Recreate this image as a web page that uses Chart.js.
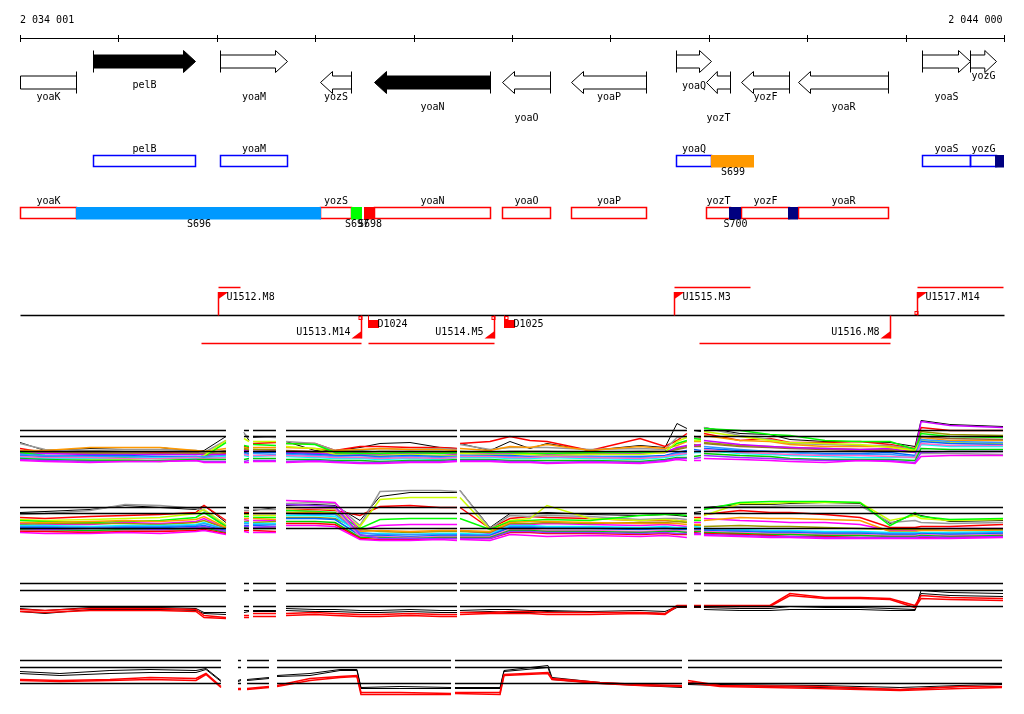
<!DOCTYPE html>
<html>
<head>
<meta charset="utf-8">
<script src="https://cdn.jsdelivr.net/npm/chart.js@4.4.1/dist/chart.umd.min.js"></script>
<style>
  body { margin: 0; background: #fff; }
  canvas { display: block; }
</style>
</head>
<body>
<canvas id="browser" width="1024" height="714"></canvas>
<script>
// region on display
var regionStart = 2034001;
var regionEnd = 2044000;

// genes (bp)
var geneNames  = ['yoaK', 'pelB', 'yoaM', 'yozS', 'yoaN', 'yoaO', 'yoaP', 'yoaQ', 'yozT', 'yozF', 'yoaR', 'yoaS', 'yozG'];
var geneStart  = [2034001, 2034743, 2036033, 2037049, 2037598, 2038899, 2039600, 2040667, 2040972, 2041327, 2041906, 2043166, 2043654];
var geneEnd    = [2034570, 2035779, 2036714, 2037364, 2038777, 2039387, 2040362, 2041023, 2041216, 2041815, 2042821, 2043654, 2043918];
var geneStrand = [-1, 1, 1, -1, -1, -1, -1, 1, -1, -1, -1, 1, 1];
var geneDark   = [false, true, false, false, true, false, false, false, false, false, false, false, false];

// segments
var segNames  = ['S696', 'S697', 'S698', 'S699', 'S700', '', ''];
var segStart  = [2034570, 2037364, 2037497, 2041023, 2041206, 2041805, 2043909];
var segEnd    = [2037060, 2037476, 2037608, 2041460, 2041327, 2041907, 2044000];
var segStrand = [-1, -1, -1, 1, -1, -1, 1];
var segColor  = ['#0099ff', '#00ff00', '#ff0000', '#ff9900', '#000080', '#000080', '#000080'];

// transcription units
var tuNames  = ['U1512.M8', 'U1513.M14', 'U1514.M5', 'U1515.M3', 'U1516.M8', 'U1517.M14'];
var tuLeft   = [2036013, 2035840, 2037537, 2040647, 2040901, 2043116];
var tuRight  = [2036237, 2037466, 2038818, 2041419, 2042842, 2043990];
var tuStrand = [1, -1, -1, 1, -1, 1];
var dNames = ['D1024', 'D1025'];
var dPos   = [2037537, 2038919];
var termPos    = [2037451, 2038812, 2038935, 2043106];
var termStrand = [-1, -1, -1, 1];

// probe positions, panels 1-3
var probesA = [2034001, 2034255, 2034712, 2035068, 2035424, 2035789, 2035871, 2036094,
  2036277, 2036328,
  2036369, 2036602,
  2036704, 2036999, 2037202, 2037456, 2037659, 2037964, 2038269, 2038442,
  2038472, 2038777, 2038980, 2039183, 2039356, 2039793, 2040301, 2040555, 2040677, 2040778,
  2040850, 2040921,
  2040951, 2041317, 2041622, 2041825, 2042181, 2042537, 2042842, 2043096, 2043157, 2043451, 2043990];
var breaksA = [8, 10, 12, 20, 30, 32];
// probe positions, panel 4
var probesB = [2034001, 2034407, 2034915, 2035322, 2035789, 2035891, 2036043,
  2036216, 2036247,
  2036308, 2036531,
  2036613, 2036948, 2037253, 2037425, 2037466, 2037862, 2038381,
  2038421, 2038879, 2038919, 2039366, 2039407, 2039895, 2040301, 2040728,
  2040789, 2041114, 2042130, 2042943, 2043553, 2043980];
var breaksB = [7, 9, 11, 18, 26];

var refLevels12 = [0, 1.5, 2.1];
var refLevels34 = [0, 1.6, 2.3];

// panel 1
var p1Black   = [0.9,0.1,0.3,0.4,0.4,0,0.1,1.5, 1.9,1.1, 1.4,1.5, 1.0,0.1,0.1,0.4,0.8,0.9,0.4,0.3, 0.8,0.1,1.0,0.3,0.8,0.1,0.6,0.4,2.8,2.3, 2.1,2.0, 2.4,1.8,1.7,1.2,1.0,1.0,0.9,0.5,3.1,2.7,2.5];
var p1Red     = [0.3,-0.1,-0.1,-0.1,-0.1,-0.1,-0.4,-0.2, 0.5,0.4, 0.8,0.9, 0.8,0.8,0.1,0.5,0.5,0.4,0.4,0.3, 0.8,1.0,1.5,1.1,1.0,0.1,1.3,0.5,1.1,1.8, 1.5,1.4, 1.8,1.1,1.3,0.9,0.9,1.0,0.7,0.3,2.4,2.1,2.1];
var p1Gray    = [0.8,0.2,0.1,0.2,0.2,0.1,-0.1,1.1, 1.8,1.4, 1.5,1.4, 1.0,0.8,0.1,0.1,0.3,0.2,0.3,0.2, 0.7,0.2,0.4,0.4,0.4,0.2,0.3,0.2,1.4,1.5, 1.4,1.3, 2.4,1.6,1.2,0.8,0.7,0.6,0.6,0.2,-0.2,-0.2,-0.3];
var p1Lime    = [-0.1,-0.4,-0.5,-0.6,-0.7,-0.7,-0.5,0.9, 0.6,0.5, 0.7,0.6, 0.8,0.7,-0.1,-0.2,-0.2,-0.1,-0.2,-0.1, 0,-0.1,-0.1,-0.2,-0.2,-0.1,-0.1,0,0.8,1.1, 1.3,1.2, 2.3,2.1,1.7,1.6,1.1,1.0,1.0,0.2,1.8,1.5,1.4];
var p1Orange  = [0.1,0.1,0.4,0.4,0.4,0.1,0,0.3, 0.4,0.3, 0.4,0.4, 0.4,0.3,0.1,0.2,0.3,0.2,0.2,0.1, 0.3,0.1,0.5,0.4,0.7,0.1,0.5,0.3,0.6,1.0, 1.0,1.0, 1.6,1.1,1.0,0.7,0.5,0.5,0.5,0.1,1.4,1.1,1.1];
var p1Yellow  = [-0.4,-0.6,-0.8,-0.8,-1.0,-0.7,-0.4,1.1, 1.3,1.0, 1.0,1.0, 0.5,0.3,-0.3,-0.4,-0.4,-0.3,-0.4,-0.4, -0.2,-0.3,-0.3,-0.3,-0.4,-0.3,-0.3,-0.1,1.0,1.4, 1.1,1.1, 2.0,1.5,1.1,0.9,0.8,0.7,0.4,0.1,1.1,0.9,0.8];
var p1Magenta = [-0.9,-1.0,-1.1,-1.0,-1.0,-0.9,-1.1,-1.1, -1.1,-1.1, -1.0,-1.0, -1.1,-1.0,-1.1,-1.2,-1.2,-1.1,-1.1,-1.0, -1.0,-1.0,-1.1,-1.1,-1.2,-1.1,-1.2,-1.0,-0.8,-0.9, -0.9,-0.9, -0.7,-0.8,-0.9,-1.0,-1.1,-0.9,-1.0,-1.2,-0.5,-0.4,-0.4];
var p1Cyan    = [-0.6,-0.7,-0.7,-0.7,-0.6,-0.7,-0.7,-0.5, -0.4,-0.5, -0.5,-0.4, -0.5,-0.6,-0.7,-0.7,-0.8,-0.7,-0.8,-0.6, -0.6,-0.6,-0.7,-0.7,-0.6,-0.7,-0.8,-0.6,-0.4,-0.3, -0.1,-0.1, 0.1,-0.2,-0.3,-0.4,-0.5,-0.6,-0.6,-0.6,0.7,0.5,0.5];
var p1Blue    = [-0.4,-0.5,-0.4,-0.4,-0.5,-0.5,-0.6,-0.6, -0.1,-0.2, -0.1,-0.1, -0.2,-0.3,-0.4,-0.4,-0.5,-0.4,-0.5,-0.5, -0.4,-0.4,-0.4,-0.5,-0.5,-0.5,-0.5,-0.4,-0.1,0.1, 0.2,0.1, 0.3,0.1,0,-0.1,-0.2,-0.2,-0.1,-0.4,1.0,0.8,0.7];
var p1Brown   = [0,-0.1,-0.1,-0.1,-0.2,-0.1,-0.2,0.1, 0.2,0.1, 0.2,0.1, 0.1,0,0,-0.1,0,0,0,-0.1, -0.1,-0.1,0,0,0,-0.1,0,0,0.2,0.4, 0.5,0.5, 0.8,0.5,0.4,0.3,0.2,0.1,0.1,-0.1,1.5,1.3,1.2];
var p1Green   = [-0.7,-0.8,-0.9,-0.9,-0.9,-0.8,-0.8,-0.8, -0.8,-0.7, -0.7,-0.7, -0.8,-0.8,-0.9,-0.9,-1.0,-0.9,-0.9,-0.8, -0.8,-0.8,-0.9,-0.9,-0.9,-0.9,-1.0,-0.8,-0.6,-0.6, -0.5,-0.4, -0.2,-0.4,-0.5,-0.7,-0.8,-0.8,-0.8,-0.9,0.3,0.2,0.2];
var p1Purple  = [-0.2,-0.2,-0.3,-0.3,-0.3,-0.3,-0.3,-0.3, 0.1,0, 0,0, -0.1,-0.2,-0.3,-0.3,-0.3,-0.2,-0.2,-0.3, -0.2,-0.2,-0.2,-0.3,-0.3,-0.3,-0.2,-0.1,0.4,0.6, 0.6,0.7, 1.1,0.7,0.5,0.4,0.3,0.2,0.3,-0.1,3.0,2.6,2.4];
var p1Sky     = [-0.3,-0.4,-0.5,-0.5,-0.6,-0.5,-0.5,-0.4, -0.2,-0.3, -0.2,-0.3, -0.3,-0.4,-0.5,-0.6,-0.6,-0.5,-0.6,-0.5, -0.4,-0.5,-0.5,-0.6,-0.6,-0.5,-0.6,-0.5,-0.2,-0.1, -0.1,0, 0.5,0.2,0,-0.1,-0.3,-0.3,-0.3,-0.5,1.2,1.0,0.9];
var p1Pink    = [-0.5,-0.6,-0.6,-0.7,-0.7,-0.6,-0.7,-0.6, -0.3,-0.4, -0.4,-0.4, -0.4,-0.5,-0.6,-0.6,-0.7,-0.6,-0.7,-0.6, -0.5,-0.5,-0.6,-0.6,-0.5,-0.6,-0.7,-0.5,-0.3,-0.2, 0,0, 0.2,-0.1,-0.2,-0.3,-0.4,-0.4,-0.5,-0.6,0.8,0.6,0.6];
var p1Olive   = [-0.1,-0.2,-0.2,-0.2,-0.3,-0.2,-0.3,-0.1, 0.3,0.2, 0.2,0.2, 0,-0.1,-0.2,-0.2,-0.2,-0.1,-0.1,-0.2, -0.1,-0.1,-0.1,-0.2,-0.2,-0.2,-0.1,-0.1,0.3,0.5, 0.7,0.6, 0.9,0.6,0.5,0.4,0.3,0.2,0.2,0,2.0,1.7,1.6];
var p1Violet  = [-0.8,-0.9,-1.0,-1.0,-1.0,-0.9,-1.0,-1.0, -1.0,-0.9, -0.9,-0.9, -1.0,-0.9,-1.0,-1.1,-1.1,-1.0,-1.0,-0.9, -0.9,-0.9,-1.0,-1.0,-1.1,-1.0,-1.1,-0.9,-0.7,-0.7, -0.7,-0.6, -0.4,-0.6,-0.7,-0.8,-0.9,-0.9,-0.9,-1.1,-0.1,0,0];

// panel 2
var p2Black    = [1.6,1.7,1.9,2.3,2.1,1.9,2.3,0.6, 2.1,2.0, 1.8,2.1, 2.3,2.4,2.3,0.8,3.2,3.6,3.6,3.6, 3.8,0.1,1.5,1.5,1.6,1.4,1.3,1.4,1.3,1.2, 1.6,1.7, 2.1,2.4,2.4,2.5,2.6,2.5,0.5,1.4,1.3,0.7,0.8];
var p2Red      = [1.1,1.0,1.2,1.3,1.4,1.6,2.3,0.8, 1.6,1.6, 1.5,1.5, 1.8,1.9,1.8,1.3,2.2,2.3,2.1,2.1, 2.1,0,1.0,1.2,1.1,1.0,0.8,0.8,0.8,0.7, 1.1,1.1, 1.4,1.8,1.6,1.6,1.4,1.1,0.1,0.1,0.2,0.2,0.4];
var p2Gray     = [1.4,1.5,1.8,2.4,2.3,2.0,1.8,0.3, 1.8,1.8, 1.9,1.9, 2.5,2.6,2.5,0.3,3.7,3.8,3.8,3.7, 3.8,0,1.3,1.2,1.3,1.2,0.9,1.0,1.0,0.9, 1.4,1.4, 2.0,2.2,2.2,2.3,2.3,2.3,0.6,0.8,0.6,0.5,0.6];
var p2Yellow   = [0.9,0.8,0.9,1.0,1.1,1.5,1.9,0.4, 1.4,1.4, 1.3,1.3, 2.0,2.0,1.9,0.2,2.9,3.1,3.1,3.1, 3.1,-0.1,0.8,1.0,2.3,1.0,0.8,0.9,0.8,0.7, 0.9,1.0, 1.3,2.5,2.5,2.6,2.6,2.6,0.8,1.3,1.0,0.8,0.9];
var p2Lime     = [0.8,0.7,0.6,0.7,0.8,1.1,1.6,0.2, 1.2,1.2, 1.1,1.1, 1.8,1.7,1.6,0,0.9,1.0,1.0,1.0, 1.0,-0.1,0.7,0.8,0.9,0.8,1.3,1.4,1.4,1.3, 0.8,0.8, 1.9,2.6,2.7,2.7,2.7,2.6,0.3,1.6,1.2,0.9,1.0];
var p2Magenta  = [0.5,0.4,0.4,0.6,0.5,0.7,1.0,0, 0.9,0.8, 0.8,0.8, 2.8,2.7,2.6,-0.2,0.3,0.4,0.4,0.4, -0.2,-0.5,0.4,0.4,0.5,0.4,0.3,0.4,0.3,0.2, 0.6,0.6, 1.0,0.8,0.7,0.6,0.6,0.4,-0.2,-0.2,-0.1,0,0];
var p2Orange   = [0.6,0.6,0.7,0.8,0.7,0.9,1.2,0.1, 1.0,1.0, 1.0,0.9, 1.6,1.6,1.5,-0.3,-0.2,-0.3,-0.2,-0.2, -0.2,-0.3,0.6,0.7,0.7,0.6,0.5,0.5,0.5,0.4, 0.4,0.4, 0.8,1.1,1.0,1.0,0.9,0.8,-0.3,-0.3,-0.2,-0.2,-0.2];
var p2Cyan     = [0.3,0.3,0.2,0.3,0.3,0.4,0.6,-0.1, 0.6,0.6, 0.5,0.5, 1.3,1.3,1.2,-0.5,-0.5,-0.6,-0.5,-0.5, -0.5,-0.6,0.3,0.3,0.2,0.2,0.1,0.2,0.1,0.1, 0.2,0.1, 0,-0.1,-0.2,-0.2,-0.3,-0.3,-0.4,-0.4,-0.4,-0.4,-0.3];
var p2Blue     = [0.1,0.1,0,0.1,0.1,0.2,0.3,-0.2, 0.3,0.3, 0.3,0.2, 1.0,1.0,0.9,-0.7,-0.7,-0.8,-0.7,-0.7, -0.7,-0.7,0.1,0.1,0,0,-0.1,0,-0.1,-0.1, -0.1,-0.1, -0.2,-0.3,-0.4,-0.4,-0.5,-0.5,-0.6,-0.6,-0.5,-0.6,-0.5];
var p2Green    = [-0.1,-0.1,-0.2,-0.1,-0.1,0,0.1,-0.4, 0.1,0, 0,0, 0.7,0.7,0.6,-0.9,-0.9,-1.0,-0.9,-0.9, -0.9,-0.9,-0.2,-0.2,-0.3,-0.3,-0.4,-0.3,-0.3,-0.4, -0.3,-0.3, -0.4,-0.5,-0.6,-0.6,-0.7,-0.7,-0.8,-0.8,-0.7,-0.8,-0.7];
var p2Magenta2 = [-0.4,-0.5,-0.5,-0.4,-0.5,-0.3,-0.2,-0.6, -0.3,-0.4, -0.4,-0.4, 0.3,0.3,0.2,-1.1,-1.2,-1.2,-1.1,-1.2, -1.1,-1.2,-0.6,-0.7,-0.8,-0.7,-0.8,-0.7,-0.8,-0.9, -0.6,-0.6, -0.7,-0.8,-0.9,-0.9,-1.0,-1.0,-1.0,-1.0,-1.0,-1.0,-0.9];
var p2Red2     = [-0.3,-0.3,-0.4,-0.3,-0.3,-0.2,-0.1,-0.5, -0.2,-0.2, -0.2,-0.3, 0.5,0.5,0.4,-1.0,-1.1,-1.1,-1.0,-1.0, -1.0,-1.0,-0.4,-0.4,-0.5,-0.5,-0.6,-0.5,-0.6,-0.6, -0.4,-0.5, -0.5,-0.6,-0.7,-0.8,-0.8,-0.9,-0.9,-0.9,-0.9,-0.9,-0.8];
var p2Sky      = [0.2,0.2,0.1,0.2,0.2,0.3,0.5,-0.1, 0.5,0.5, 0.4,0.4, 1.5,1.4,1.4,-0.4,-0.6,-0.6,-0.6,-0.6, -0.6,-0.7,0.2,0.2,0.1,0.1,0,0.1,0,0, 0,0, -0.1,-0.2,-0.3,-0.3,-0.4,-0.4,-0.5,-0.5,-0.5,-0.5,-0.4];
var p2Pink     = [-0.2,-0.2,-0.3,-0.2,-0.2,-0.1,0,-0.3, 0.2,0.1, 0.1,0.1, 2.1,2.0,2.0,-0.8,-0.8,-0.9,-0.8,-0.8, -0.8,-0.8,-0.1,-0.1,-0.2,-0.2,-0.3,-0.2,-0.2,-0.3, -0.2,-0.2, -0.3,-0.4,-0.5,-0.5,-0.6,-0.6,-0.7,-0.7,-0.6,-0.7,-0.6];
var p2Olive    = [0.4,0.5,0.5,0.5,0.4,0.6,0.8,0, 0.7,0.7, 0.6,0.7, 1.1,1.1,1.0,-0.1,-0.3,-0.4,-0.3,-0.3, -0.3,-0.4,0.5,0.5,0.6,0.5,0.6,0.6,0.7,0.6, 0.3,0.3, 0.2,0.3,0.2,0.2,0.1,0,-0.1,-0.1,-0.1,-0.2,-0.1];
var p2Violet   = [0,-0.1,0,0,-0.1,0.1,0.2,-0.3, 0.2,0.2, 0.1,0.2, 2.4,2.3,2.2,-0.6,-1.0,-1.0,-1.0,-1.0, -1.0,-1.0,-0.3,-0.3,-0.4,-0.4,-0.5,-0.4,-0.5,-0.5, -0.5,-0.5, -0.6,-0.7,-0.8,-0.8,-0.9,-0.9,-0.9,-0.9,-0.8,-0.9,-0.8];

// panel 3
var p3Black1 = [-0.2,-0.4,-0.1,-0.1,-0.1,-0.2,-0.6,-0.6, -0.4,-0.4, -0.4,-0.4, -0.2,-0.3,-0.3,-0.4,-0.4,-0.3,-0.4,-0.4, -0.4,-0.3,-0.3,-0.4,-0.4,-0.5,-0.4,-0.5,0,0, 0,0, -0.1,-0.2,-0.2,0,-0.1,-0.1,-0.2,-0.3,1.6,1.4,1.3];
var p3Black2 = [-0.5,-0.7,-0.3,-0.3,-0.3,-0.4,-0.7,-0.8, -0.6,-0.5, -0.5,-0.5, -0.4,-0.5,-0.5,-0.6,-0.6,-0.5,-0.6,-0.6, -0.6,-0.5,-0.6,-0.6,-0.5,-0.6,-0.6,-0.7,-0.1,-0.1, -0.1,-0.1, -0.3,-0.4,-0.4,-0.3,-0.3,-0.3,-0.4,-0.4,1.3,1.1,1.0];
var p3Red1   = [-0.3,-0.4,-0.2,-0.2,-0.2,-0.3,-0.9,-1.1, -0.9,-0.9, -0.7,-0.7, -0.7,-0.6,-0.7,-0.8,-0.8,-0.7,-0.8,-0.8, -0.6,-0.6,-0.5,-0.5,-0.6,-0.6,-0.6,-0.7,0.1,0.1, 0.1,0.1, 0.1,0.1,0.1,1.3,0.9,0.9,0.8,0.1,1.1,0.9,0.8];
var p3Red2   = [-0.5,-0.6,-0.4,-0.4,-0.4,-0.5,-1.1,-1.2, -1.1,-1.1, -1.0,-1.0, -0.9,-0.8,-0.9,-1.0,-1.0,-0.9,-1.0,-1.0, -0.8,-0.7,-0.7,-0.7,-0.8,-0.8,-0.7,-0.8,0,0, 0,0, 0,0,0,1.1,0.8,0.8,0.7,-0.1,0.8,0.7,0.6];

// panel 4
var p4Black1 = [1.2,1.0,1.3,1.4,1.3,1.5,0.3, 0.3,0.4, 0.4,0.6, 0.8,1.0,1.4,1.4,-0.4,-0.3,-0.4, -0.4,-0.4,1.3,1.8,0.6,0.1,-0.1,-0.3, 0.1,-0.1,-0.2,-0.4,-0.2,-0.1];
var p4Black2 = [1.0,0.8,1.0,1.1,1.1,1.4,0.2, 0.2,0.3, 0.3,0.5, 0.7,0.8,1.3,1.3,-0.5,-0.5,-0.5, -0.5,-0.5,1.2,1.6,0.4,0,-0.2,-0.4, -0.1,-0.2,-0.4,-0.6,-0.3,-0.3];
var p4Red1   = [0.4,0.3,0.4,0.6,0.5,1.0,-0.3, -0.5,-0.5, -0.5,-0.3, -0.2,0.5,0.7,0.8,-0.9,-0.9,-1.0, -0.9,-0.9,0.9,1.1,0.5,0.1,-0.1,-0.2, 0.3,-0.2,-0.3,-0.6,-0.3,-0.3];
var p4Red2   = [0.3,0.2,0.3,0.4,0.3,0.9,-0.4, -0.6,-0.6, -0.6,-0.4, -0.3,0.3,0.6,0.7,-1.1,-1.1,-1.1, -1.0,-1.1,0.8,1.0,0.4,0,-0.2,-0.3, 0.1,-0.3,-0.5,-0.7,-0.5,-0.4];

// layout
var H = 714;
var PX_PER_UNIT = 10;
var panels = [
  { id: 'p1', zero: 451, probes: probesA, breaks: breaksA, refs: refLevels12, width: 1.5,
    series: [p1Magenta, p1Violet, p1Green, p1Pink, p1Cyan, p1Sky, p1Blue, p1Yellow, p1Lime, p1Purple, p1Olive, p1Brown, p1Orange, p1Gray, p1Red, p1Black],
    colors: ['#ff00ff', '#9933ff', '#00cc00', '#ff66cc', '#00ffff', '#3399ff', '#0066ff', '#ccff00', '#00ff00', '#cc00ff', '#999900', '#996633', '#ff9900', '#999999', '#ff0000', '#000000'] },
  { id: 'p2', zero: 528, probes: probesA, breaks: breaksA, refs: refLevels12, width: 1.5,
    series: [p2Magenta2, p2Violet, p2Red2, p2Green, p2Pink, p2Blue, p2Sky, p2Cyan, p2Orange, p2Olive, p2Magenta, p2Lime, p2Yellow, p2Gray, p2Red, p2Black],
    colors: ['#ff00ff', '#9933ff', '#ff0000', '#00cc00', '#ff66cc', '#0066ff', '#3399ff', '#00ffff', '#ff9900', '#999900', '#ff00ff', '#00ff00', '#ccff00', '#999999', '#ff0000', '#000000'] },
  { id: 'p3', zero: 606, probes: probesA, breaks: breaksA, refs: refLevels34, width: 1.5,
    series: [p3Red2, p3Red1, p3Black2, p3Black1],
    colors: ['#ff0000', '#ff0000', '#000000', '#000000'] },
  { id: 'p4', zero: 683, probes: probesB, breaks: breaksB, refs: refLevels34, width: 1.5,
    series: [p4Red2, p4Red1, p4Black2, p4Black1],
    colors: ['#ff0000', '#ff0000', '#000000', '#000000'] }
];

function seriesPoints(probes, breaks, values) {
  var pts = [];
  for (var i = 0; i < probes.length; i++) {
    if (breaks.indexOf(i) >= 0) pts.push({ x: (probes[i - 1] + probes[i]) / 2, y: null });
    pts.push({ x: probes[i], y: values[i] });
  }
  return pts;
}

function refPoints(probes, breaks, level) {
  var starts = [0].concat(breaks), pts = [];
  starts.forEach(function (s, k) {
    var e = (k + 1 < starts.length ? starts[k + 1] : probes.length) - 1;
    if (k > 0) pts.push({ x: (probes[s - 1] + probes[s]) / 2, y: null });
    pts.push({ x: probes[s], y: level }, { x: probes[e], y: level });
  });
  return pts;
}

var scales = {
  x: { type: 'linear', min: regionStart, max: regionEnd, display: false }
};
var refSets = [], dataSets = [];
panels.forEach(function (p) {
  scales[p.id] = { type: 'linear', display: false,
    min: (p.zero + 0.5 - H) / PX_PER_UNIT, max: (p.zero + 0.5) / PX_PER_UNIT };
  p.refs.forEach(function (lvl) {
    refSets.push({ data: refPoints(p.probes, p.breaks, lvl), yAxisID: p.id,
      borderColor: '#000', borderWidth: 1.5 });
  });
  p.series.forEach(function (vals, i) {
    dataSets.push({ data: seriesPoints(p.probes, p.breaks, vals), yAxisID: p.id,
      borderColor: p.colors[i], borderWidth: p.colors[i] === '#000000' ? 1 : p.width });
  });
});

var FONT = '10px "DejaVu Sans Mono"';
var ROW_FWD = 61.5, ROW_REV = 82.5;
var labelRow = { pelB: 85, yoaQ: 86, yoaN: 107, yoaR: 107, yoaO: 118, yozT: 118, yozG: 76 };

function fmt(n) { return String(n).replace(/\B(?=(\d{3})+(?!\d))/g, ' '); }

var tracks = {
  id: 'tracks',
  afterDraw: function (chart) {
    var ctx = chart.ctx, xs = chart.scales.x;
    function px(bp) { return Math.round(xs.getPixelForValue(bp)) + 0.5; }
    function line(x1, y1, x2, y2) { ctx.beginPath(); ctx.moveTo(x1, y1); ctx.lineTo(x2, y2); ctx.stroke(); }
    function text(s, x, y, align) { ctx.textAlign = align || 'center'; ctx.fillText(s, x, y); }

    ctx.save();
    ctx.font = FONT;
    ctx.textBaseline = 'middle';
    ctx.fillStyle = '#000';
    ctx.strokeStyle = '#000';
    ctx.lineWidth = 1;

    // ruler
    text(fmt(regionStart), px(regionStart) - 0.5, 20, 'left');
    text(fmt(regionEnd), px(regionEnd) - 2, 20, 'right');
    line(px(regionStart), 38.5, px(regionEnd), 38.5);
    for (var t = regionStart; t <= regionEnd + 1; t += 1000) {
      var tx = px(Math.min(t, regionEnd));
      line(tx, 35, tx, 42);
    }

    // gene arrows
    var body = 6.5, head = 11;
    geneNames.forEach(function (name, i) {
      var a = px(geneStart[i]), b = px(geneEnd[i]), s = geneStrand[i];
      var cy = s > 0 ? ROW_FWD : ROW_REV;
      var hl = Math.min(12, (b - a) * 0.45);
      ctx.beginPath();
      if (geneStart[i] <= regionStart && s < 0) {
        ctx.rect(a, cy - body, b - a, body * 2);
      } else if (s > 0) {
        ctx.moveTo(a, cy - body); ctx.lineTo(b - hl, cy - body); ctx.lineTo(b - hl, cy - head);
        ctx.lineTo(b, cy); ctx.lineTo(b - hl, cy + head); ctx.lineTo(b - hl, cy + body);
        ctx.lineTo(a, cy + body); ctx.closePath();
      } else {
        ctx.moveTo(b, cy - body); ctx.lineTo(a + hl, cy - body); ctx.lineTo(a + hl, cy - head);
        ctx.lineTo(a, cy); ctx.lineTo(a + hl, cy + head); ctx.lineTo(a + hl, cy + body);
        ctx.lineTo(b, cy + body); ctx.closePath();
      }
      ctx.fillStyle = geneDark[i] ? '#000' : '#fff';
      ctx.fill();
      ctx.stroke();
      var sx = s > 0 ? a : b;
      line(sx, cy - head, sx, cy + head);
      ctx.fillStyle = '#000';
      text(name, (a + b) / 2, labelRow[name] || 97);
    });

    // gene boxes and segments
    var BOX_FWD = 155.5, BOX_REV = 207.5, BOX_H = 11;
    geneNames.forEach(function (name, i) {
      var a = px(geneStart[i]), b = px(geneEnd[i]);
      var y = geneStrand[i] > 0 ? BOX_FWD : BOX_REV;
      ctx.strokeStyle = geneStrand[i] > 0 ? '#0000ff' : '#ff0000';
      ctx.lineWidth = 1.5;
      ctx.strokeRect(a, y, b - a, BOX_H);
      ctx.fillStyle = '#000';
      text(name, (a + b) / 2, y - 6.5);
    });
    segNames.forEach(function (name, i) {
      var a = px(segStart[i]), b = px(segEnd[i]);
      var y = segStrand[i] > 0 ? BOX_FWD : BOX_REV;
      ctx.fillStyle = segColor[i];
      ctx.fillRect(a - 0.5, y - 0.5, b - a, BOX_H + 1.5);
      if (name) {
        ctx.fillStyle = '#000';
        text(name, (a + b) / 2, y + BOX_H + 6);
      }
    });

    // transcription units
    var MID = 315.5;
    ctx.strokeStyle = '#000';
    ctx.lineWidth = 1.5;
    line(px(regionStart), MID, px(regionEnd), MID);
    tuNames.forEach(function (name, i) {
      var a = px(tuLeft[i]), b = px(tuRight[i]);
      ctx.strokeStyle = '#ff0000';
      ctx.fillStyle = '#ff0000';
      ctx.lineWidth = 1.5;
      if (tuStrand[i] > 0) {
        line(a, 287.5, b, 287.5);
        line(a, MID, a, 292);
        ctx.beginPath(); ctx.moveTo(a, 292); ctx.lineTo(a + 10, 292); ctx.lineTo(a, 299); ctx.closePath(); ctx.fill();
        ctx.fillStyle = '#000';
        text(name, a + 8, 297.5, 'left');
      } else {
        line(a, 343.5, b, 343.5);
        line(b, MID, b, 338.5);
        ctx.beginPath(); ctx.moveTo(b, 338.5); ctx.lineTo(b - 10, 338.5); ctx.lineTo(b, 331); ctx.closePath(); ctx.fill();
        ctx.fillStyle = '#000';
        text(name, b - 11, 332.5, 'right');
      }
    });
    dNames.forEach(function (name, i) {
      var x = px(dPos[i]);
      ctx.strokeStyle = '#ff0000';
      ctx.fillStyle = '#ff0000';
      ctx.lineWidth = 1;
      line(x, MID, x, 320);
      ctx.fillRect(x - 0.5, 320, 11, 8);
      ctx.fillStyle = '#000';
      text(name, x + 9, 324.5, 'left');
    });
    ctx.strokeStyle = '#ff0000';
    ctx.lineWidth = 1;
    termPos.forEach(function (bp, i) {
      var x = px(bp);
      ctx.strokeRect(x - 1.5, termStrand[i] > 0 ? 311.5 : 316.5, 3, 3);
    });
    ctx.restore();
  }
};

new Chart(document.getElementById('browser'), {
  type: 'line',
  data: { datasets: refSets.concat(dataSets) },
  options: {
    responsive: false,
    animation: false,
    devicePixelRatio: 1,
    events: [],
    layout: { padding: { left: 20, right: 20, top: 0, bottom: 0 } },
    elements: { point: { radius: 0 }, line: { tension: 0 } },
    plugins: { legend: { display: false }, tooltip: { enabled: false } },
    scales: scales
  },
  plugins: [tracks]
});
</script>
</body>
</html>
